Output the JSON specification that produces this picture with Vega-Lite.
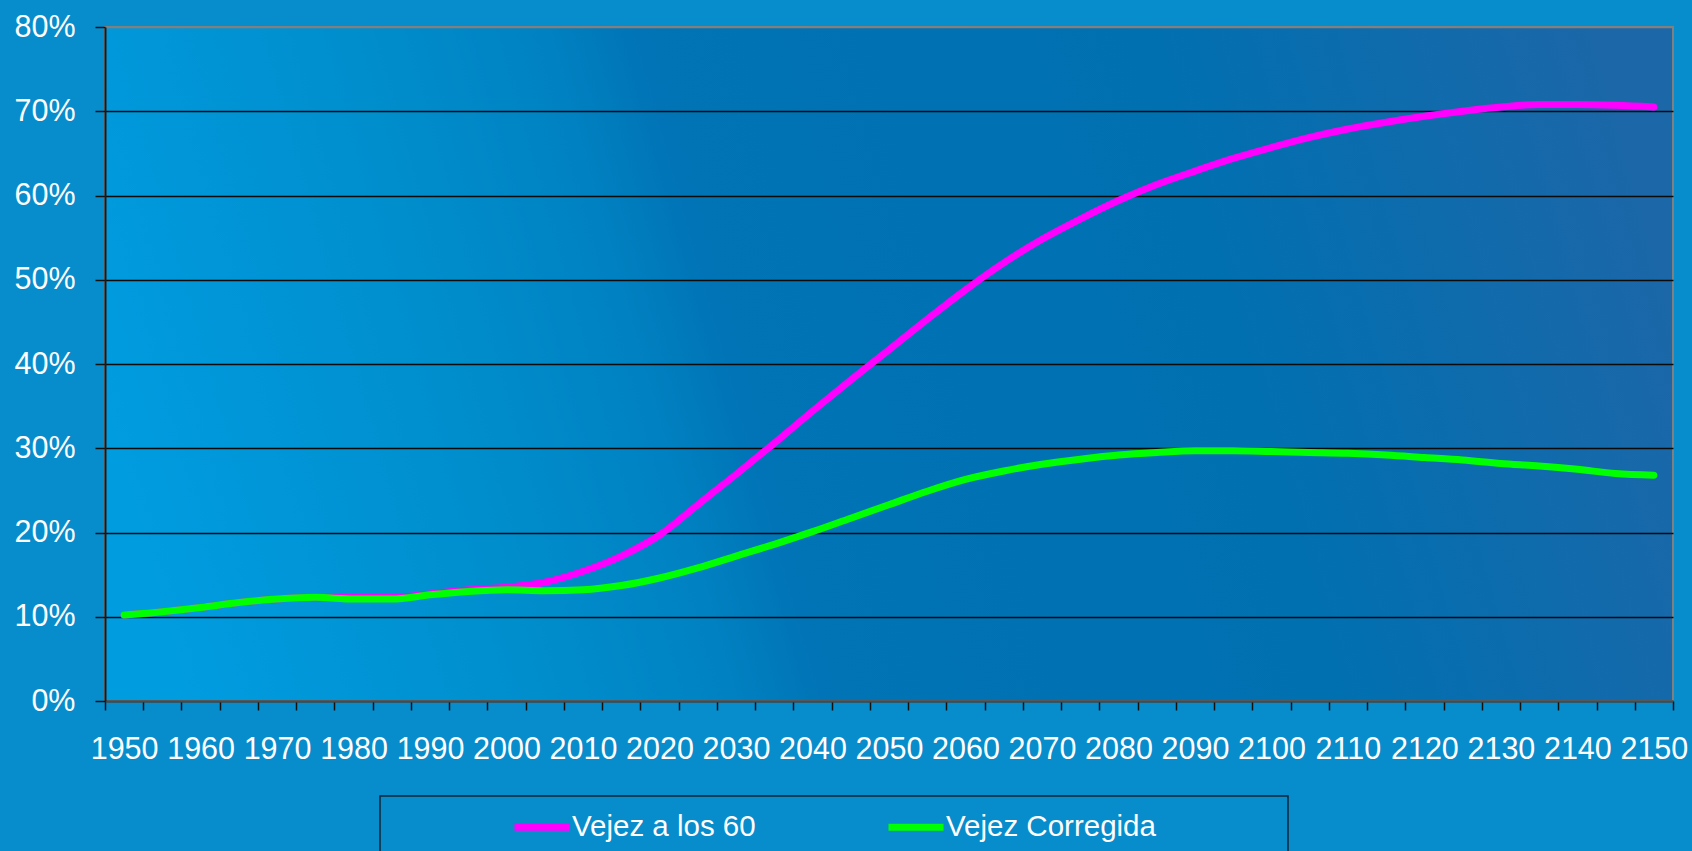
{
  "$schema": "https://vega.github.io/schema/vega-lite/v6.json",
  "width": 1568,
  "height": 674,
  "autosize": {"type": "none"},
  "padding": {"left": 105, "top": 27, "right": 19, "bottom": 150},
  "background": "#078ccc",
  "data": {
    "values": [
      {"anio": 1950, "serie": "Vejez a los 60", "valor": 10.2},
      {"anio": 1955, "serie": "Vejez a los 60", "valor": 10.6},
      {"anio": 1960, "serie": "Vejez a los 60", "valor": 11.1},
      {"anio": 1965, "serie": "Vejez a los 60", "valor": 11.7},
      {"anio": 1970, "serie": "Vejez a los 60", "valor": 12.1},
      {"anio": 1975, "serie": "Vejez a los 60", "valor": 12.3},
      {"anio": 1980, "serie": "Vejez a los 60", "valor": 12.3},
      {"anio": 1985, "serie": "Vejez a los 60", "valor": 12.3},
      {"anio": 1990, "serie": "Vejez a los 60", "valor": 12.7},
      {"anio": 1995, "serie": "Vejez a los 60", "valor": 13.2},
      {"anio": 2000, "serie": "Vejez a los 60", "valor": 13.5},
      {"anio": 2005, "serie": "Vejez a los 60", "valor": 14.1},
      {"anio": 2010, "serie": "Vejez a los 60", "valor": 15.4},
      {"anio": 2015, "serie": "Vejez a los 60", "valor": 17.2},
      {"anio": 2020, "serie": "Vejez a los 60", "valor": 19.7},
      {"anio": 2025, "serie": "Vejez a los 60", "valor": 23.3},
      {"anio": 2030, "serie": "Vejez a los 60", "valor": 26.9},
      {"anio": 2035, "serie": "Vejez a los 60", "valor": 30.6},
      {"anio": 2040, "serie": "Vejez a los 60", "valor": 34.4},
      {"anio": 2045, "serie": "Vejez a los 60", "valor": 38.1},
      {"anio": 2050, "serie": "Vejez a los 60", "valor": 41.7},
      {"anio": 2055, "serie": "Vejez a los 60", "valor": 45.3},
      {"anio": 2060, "serie": "Vejez a los 60", "valor": 48.8},
      {"anio": 2065, "serie": "Vejez a los 60", "valor": 52.0},
      {"anio": 2070, "serie": "Vejez a los 60", "valor": 54.8},
      {"anio": 2075, "serie": "Vejez a los 60", "valor": 57.2},
      {"anio": 2080, "serie": "Vejez a los 60", "valor": 59.4},
      {"anio": 2085, "serie": "Vejez a los 60", "valor": 61.3},
      {"anio": 2090, "serie": "Vejez a los 60", "valor": 62.9},
      {"anio": 2095, "serie": "Vejez a los 60", "valor": 64.4},
      {"anio": 2100, "serie": "Vejez a los 60", "valor": 65.7},
      {"anio": 2105, "serie": "Vejez a los 60", "valor": 66.9},
      {"anio": 2110, "serie": "Vejez a los 60", "valor": 67.9},
      {"anio": 2115, "serie": "Vejez a los 60", "valor": 68.7},
      {"anio": 2120, "serie": "Vejez a los 60", "valor": 69.4},
      {"anio": 2125, "serie": "Vejez a los 60", "valor": 70.0},
      {"anio": 2130, "serie": "Vejez a los 60", "valor": 70.5},
      {"anio": 2135, "serie": "Vejez a los 60", "valor": 70.8},
      {"anio": 2140, "serie": "Vejez a los 60", "valor": 70.8},
      {"anio": 2145, "serie": "Vejez a los 60", "valor": 70.7},
      {"anio": 2150, "serie": "Vejez a los 60", "valor": 70.5},
      {"anio": 1950, "serie": "Vejez Corregida", "valor": 10.2},
      {"anio": 1955, "serie": "Vejez Corregida", "valor": 10.6},
      {"anio": 1960, "serie": "Vejez Corregida", "valor": 11.1},
      {"anio": 1965, "serie": "Vejez Corregida", "valor": 11.7},
      {"anio": 1970, "serie": "Vejez Corregida", "valor": 12.1},
      {"anio": 1975, "serie": "Vejez Corregida", "valor": 12.3},
      {"anio": 1980, "serie": "Vejez Corregida", "valor": 12.1},
      {"anio": 1985, "serie": "Vejez Corregida", "valor": 12.1},
      {"anio": 1990, "serie": "Vejez Corregida", "valor": 12.6},
      {"anio": 1995, "serie": "Vejez Corregida", "valor": 13.0},
      {"anio": 2000, "serie": "Vejez Corregida", "valor": 13.2},
      {"anio": 2005, "serie": "Vejez Corregida", "valor": 13.1},
      {"anio": 2010, "serie": "Vejez Corregida", "valor": 13.2},
      {"anio": 2015, "serie": "Vejez Corregida", "valor": 13.7},
      {"anio": 2020, "serie": "Vejez Corregida", "valor": 14.6},
      {"anio": 2025, "serie": "Vejez Corregida", "valor": 15.8},
      {"anio": 2030, "serie": "Vejez Corregida", "valor": 17.2},
      {"anio": 2035, "serie": "Vejez Corregida", "valor": 18.6},
      {"anio": 2040, "serie": "Vejez Corregida", "valor": 20.1},
      {"anio": 2045, "serie": "Vejez Corregida", "valor": 21.7},
      {"anio": 2050, "serie": "Vejez Corregida", "valor": 23.3},
      {"anio": 2055, "serie": "Vejez Corregida", "valor": 24.9},
      {"anio": 2060, "serie": "Vejez Corregida", "valor": 26.3},
      {"anio": 2065, "serie": "Vejez Corregida", "valor": 27.3},
      {"anio": 2070, "serie": "Vejez Corregida", "valor": 28.1},
      {"anio": 2075, "serie": "Vejez Corregida", "valor": 28.7},
      {"anio": 2080, "serie": "Vejez Corregida", "valor": 29.2},
      {"anio": 2085, "serie": "Vejez Corregida", "valor": 29.5},
      {"anio": 2090, "serie": "Vejez Corregida", "valor": 29.7},
      {"anio": 2095, "serie": "Vejez Corregida", "valor": 29.7},
      {"anio": 2100, "serie": "Vejez Corregida", "valor": 29.6},
      {"anio": 2105, "serie": "Vejez Corregida", "valor": 29.5},
      {"anio": 2110, "serie": "Vejez Corregida", "valor": 29.4},
      {"anio": 2115, "serie": "Vejez Corregida", "valor": 29.2},
      {"anio": 2120, "serie": "Vejez Corregida", "valor": 28.9},
      {"anio": 2125, "serie": "Vejez Corregida", "valor": 28.6},
      {"anio": 2130, "serie": "Vejez Corregida", "valor": 28.2},
      {"anio": 2135, "serie": "Vejez Corregida", "valor": 27.9},
      {"anio": 2140, "serie": "Vejez Corregida", "valor": 27.5},
      {"anio": 2145, "serie": "Vejez Corregida", "valor": 27.0},
      {"anio": 2150, "serie": "Vejez Corregida", "valor": 26.8}
    ]
  },
  "encoding": {
    "x": {
      "field": "anio",
      "type": "quantitative",
      "scale": {"domain": [1947.5, 2152.5], "nice": false, "zero": false},
      "axis": {
        "title": null,
        "grid": false,
        "values": [1947.5, 1952.5, 1957.5, 1962.5, 1967.5, 1972.5, 1977.5, 1982.5, 1987.5, 1992.5, 1997.5, 2002.5, 2007.5, 2012.5, 2017.5, 2022.5, 2027.5, 2032.5, 2037.5, 2042.5, 2047.5, 2052.5, 2057.5, 2062.5, 2067.5, 2072.5, 2077.5, 2082.5, 2087.5, 2092.5, 2097.5, 2102.5, 2107.5, 2112.5, 2117.5, 2122.5, 2127.5, 2132.5, 2137.5, 2142.5, 2147.5, 2152.5],
        "labelExpr": "(datum.value + 2.5) % 10 == 0 ? '' + (datum.value + 2.5) : ''",
        "labelOffset": 19.1,
        "labelPadding": 24,
        "labelOverlap": false,
        "labelFlush": false,
        "labelBound": false,
        "tickSize": 9,
        "tickColor": "#111111",
        "tickWidth": 1.5,
        "domainColor": "#4a4a4a",
        "domainWidth": 2
      }
    },
    "y": {
      "field": "valor",
      "type": "quantitative",
      "scale": {"domain": [0, 80], "nice": false},
      "axis": {
        "title": null,
        "values": [0, 10, 20, 30, 40, 50, 60, 70, 80],
        "labelExpr": "datum.value + '%'",
        "labelPadding": 20,
        "tickSize": 10,
        "tickColor": "#111111",
        "tickWidth": 1.5,
        "domainColor": "#1a1a1a",
        "domainWidth": 2,
        "gridWidth": 1.5,
        "gridColor": {
          "condition": {"test": "datum.value == 80", "value": "#808080"},
          "value": "#0a0a0a"
        }
      }
    },
    "color": {
      "field": "serie",
      "type": "nominal",
      "scale": {
        "domain": ["Vejez a los 60", "Vejez Corregida"],
        "range": ["#ff00ff", "#00ff00"]
      },
      "legend": {
        "title": "\u00a0",
        "labelExpr": "datum.label == 'Vejez Corregida' ? datum.label + '\u2800\u2800\u2800\u2800\u2800\u2800' : datum.label"
      }
    }
  },
  "layer": [
    {
      "transform": [{"filter": "datum.serie == 'Vejez a los 60'"}],
      "mark": {"type": "line", "strokeWidth": 7, "strokeCap": "round", "strokeJoin": "round", "interpolate": "monotone"}
    },
    {
      "transform": [{"filter": "datum.serie == 'Vejez Corregida'"}],
      "mark": {"type": "line", "strokeWidth": 7, "strokeCap": "round", "strokeJoin": "round", "interpolate": "monotone"}
    }
  ],
  "config": {
    "view": {
      "stroke": "#808080",
      "strokeWidth": 2,
      "fill": {
        "gradient": "linear",
        "x1": 0, "y1": 0.56, "x2": 1, "y2": 0.44,
        "stops": [
          {"offset": 0, "color": "#009ce0"},
          {"offset": 0.22, "color": "#008ecd"},
          {"offset": 0.34, "color": "#0082c2"},
          {"offset": 0.4, "color": "#0074b6"},
          {"offset": 0.72, "color": "#0070b1"},
          {"offset": 1, "color": "#1b67a8"}
        ]
      }
    },
    "axis": {
      "labelFont": "Liberation Sans",
      "labelFontSize": 30.5,
      "labelColor": "#ffffff"
    },
    "legend": {
      "orient": "none",
      "legendX": 275,
      "legendY": 769,
      "direction": "horizontal",
      "columns": 2,
      "columnPadding": 118,
      "padding": 0,
      "strokeColor": "#0d2538",
      "strokeWidth": 1.5,
      "symbolType": "stroke",
      "symbolSize": 3025,
      "symbolStrokeWidth": 7,
      "labelFont": "Liberation Sans",
      "labelFontSize": 29.5,
      "labelColor": "#ffffff",
      "labelOffset": -1,
      "labelLimit": 1000,
      "titleOrient": "left",
      "titleFont": "Liberation Sans",
      "titleFontSize": 90,
      "titleBaseline": "top",
      "titlePadding": 131
    }
  }
}
